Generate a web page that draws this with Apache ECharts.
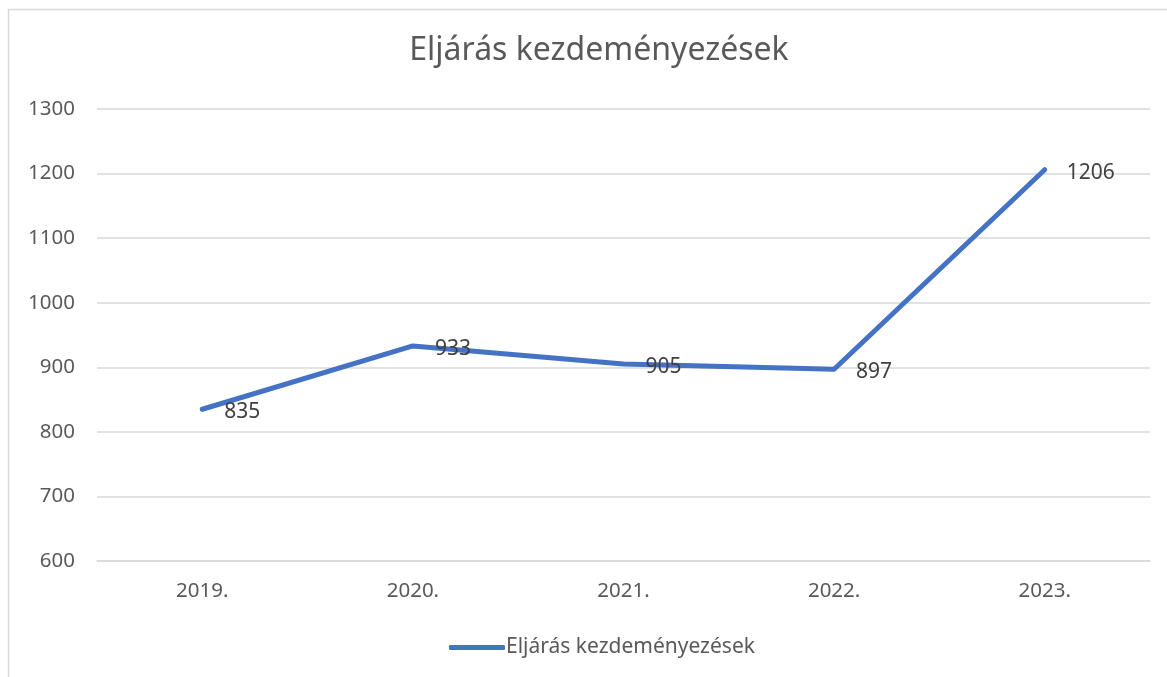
<!DOCTYPE html>
<html>
<head>
<meta charset="utf-8">
<script src="https://cdn.jsdelivr.net/npm/echarts@6/dist/echarts.min.js"></script>
<style>
  html, body { margin: 0; padding: 0; background: #fff; }
  #chart { width: 1167px; height: 677px; }
</style>
</head>
<body>
<div id="chart"></div>
<script>
const title = 'Eljárás kezdeményezések'
const years = ['2019.', '2020.', '2021.', '2022.', '2023.']
const values = [835, 933, 905, 897, 1206]

const font = '"Noto Sans", "Open Sans", sans-serif'
const myChart = echarts.init(document.getElementById('chart'))
myChart.setOption({
    animation: false,
    textStyle: { fontFamily: font },
    graphic: [{
        type: 'rect',
        shape: { x: 8.5, y: 9.5, width: 1200, height: 700 },
        style: { fill: 'none', stroke: '#d9d9d9', lineWidth: 1.5 },
        silent: true
    }],
    title: {
        text: title,
        left: 594,
        top: 30,
        textAlign: 'center',
        textStyle: { fontFamily: font, fontSize: 32, fontWeight: 'normal', color: '#595959' }
    },
    legend: {
        data: [title],
        left: 444,
        top: 632,
        itemWidth: 56,
        itemHeight: 5,
        itemGap: 4,
        icon: 'roundRect',
        textStyle: { fontFamily: font, fontSize: 21, color: '#595959', padding: [0, 0, 0, -4] }
    },
    grid: { left: 97, right: 17, top: 109, bottom: 116, containLabel: false },
    xAxis: {
        type: 'category',
        data: years,
        boundaryGap: true,
        axisLine: { lineStyle: { color: '#d9d9d9', width: 1.5 } },
        axisTick: { show: false },
        axisLabel: { fontFamily: font, fontSize: 20.5, color: '#595959', margin: 20 }
    },
    yAxis: {
        type: 'value',
        min: 600,
        max: 1300,
        interval: 100,
        axisLine: { show: false },
        axisTick: { show: false },
        splitLine: { lineStyle: { color: '#d9d9d9', width: 1.5 } },
        axisLabel: {
            fontFamily: font, fontSize: 20.5, color: '#595959', margin: 22,
            formatter: v => String(v)
        }
    },
    series: [{
        name: title,
        type: 'line',
        data: values,
        symbol: 'circle',
        symbolSize: 4,
        showSymbol: true,
        lineStyle: { color: '#4472c4', width: 5, cap: 'round', join: 'round' },
        itemStyle: { color: '#4472c4' },
        label: {
            show: true,
            position: 'right',
            distance: 20,
            offset: [0, 3],
            fontFamily: font,
            fontSize: 21,
            color: '#404040',
            formatter: p => String(p.value)
        }
    }]
})
</script>
</body>
</html>
